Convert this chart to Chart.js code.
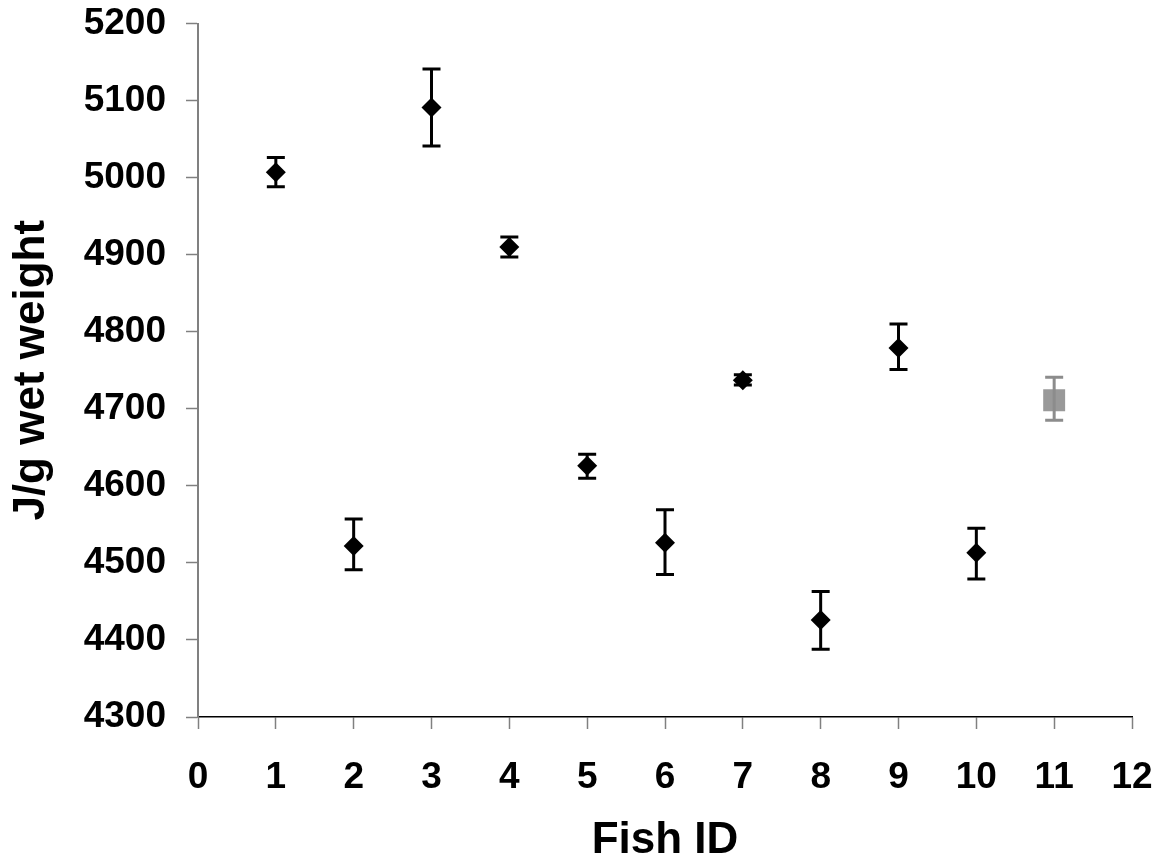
<!DOCTYPE html>
<html>
<head>
<meta charset="utf-8">
<script src="https://cdn.jsdelivr.net/npm/chart.js@4.4.1/dist/chart.umd.min.js"></script>
<style>
  html, body { margin: 0; padding: 0; background: #fff; }
  #wrap { width: 1159px; height: 865px; }
</style>
</head>
<body>
<div id="wrap"><canvas id="chart-energy" width="1159" height="865"></canvas></div>
<script>
// values
var fishIds = [1, 2, 3, 4, 5, 6, 7, 8, 9, 10];
var energy = [5007, 4522, 5091, 4910, 4626, 4526, 4737, 4426, 4779, 4513];
var errHigh = [5026, 4557, 5141, 4923, 4641, 4569, 4744, 4463, 4810, 4545];
var errLow = [4988, 4491, 5041, 4897, 4610, 4485, 4731, 4388, 4751, 4479];

var refIds = [11];
var refEnergy = [4711];
var refErrHigh = [4741];
var refErrLow = [4685];

var xTicks = [0, 1, 2, 3, 4, 5, 6, 7, 8, 9, 10, 11, 12];
var yTicks = [4300, 4400, 4500, 4600, 4700, 4800, 4900, 5000, 5100, 5200];

function toPoints(xs, ys) {
    var pts = [];
    for (let i = 0; i < xs.length; i++) {
        pts.push({ x: xs[i], y: ys[i] });
    }
    return pts;
}

// draws vertical error bars with caps for each dataset
const errorBarPlugin = {
    id: 'errorBars',
    afterDatasetsDraw: function (chart) {
        const ctx = chart.ctx;
        const yScale = chart.scales.y;
        chart.data.datasets.forEach(function (ds, di) {
            const meta = chart.getDatasetMeta(di);
            ctx.save();
            ctx.strokeStyle = ds.errorColor;
            ctx.lineWidth = 3;
            meta.data.forEach(function (pt, i) {
                const x = pt.x;
                const yHi = yScale.getPixelForValue(ds.errHigh[i]);
                const yLo = yScale.getPixelForValue(ds.errLow[i]);
                ctx.beginPath();
                ctx.moveTo(x, yHi);
                ctx.lineTo(x, yLo);
                ctx.moveTo(x - 9, yHi);
                ctx.lineTo(x + 9, yHi);
                ctx.moveTo(x - 9, yLo);
                ctx.lineTo(x + 9, yLo);
                ctx.stroke();
            });
            ctx.restore();
        });
    }
};

Chart.defaults.font.family = '"Liberation Sans", Arial, sans-serif';
Chart.defaults.color = '#000';

var data = {
    datasets: [
        {
            data: toPoints(fishIds, energy),
            errHigh: errHigh,
            errLow: errLow,
            errorColor: '#000',
            pointStyle: 'rectRot',
            pointRadius: 10,
            pointBackgroundColor: '#000',
            pointBorderColor: '#000',
            pointBorderWidth: 0,
            showLine: false
        },
        {
            data: toPoints(refIds, refEnergy),
            errHigh: refErrHigh,
            errLow: refErrLow,
            errorColor: '#8c8c8c',
            pointStyle: 'rect',
            pointRadius: 15.5,
            pointBackgroundColor: '#999',
            pointBorderColor: '#999',
            pointBorderWidth: 0,
            showLine: false
        }
    ]
};

var options = {
    responsive: false,
    animation: false,
    layout: {
        padding: { top: 23.5, right: 27, bottom: 0, left: 0 }
    },
    plugins: {
        legend: { display: false },
        tooltip: { enabled: false }
    },
    scales: {
        x: {
            type: 'linear',
            min: 0,
            max: 12,
            afterBuildTicks: function (scale) {
                scale.ticks = xTicks.map(function (v) { return { value: v }; });
            },
            afterFit: function (scale) {
                scale.height = 148;
                // label overflow is handled by the layout padding
                scale.paddingLeft = 0;
                scale.paddingRight = 0;
            },
            grid: {
                drawOnChartArea: false,
                drawTicks: true,
                tickLength: 12,
                tickColor: '#808080',
                tickWidth: 1.5
            },
            border: { color: '#000', width: 1.5 },
            ticks: {
                padding: 30,
                callback: function (value) { return String(value); },
                font: { size: 37, weight: 'bold', lineHeight: 1 }
            },
            title: {
                display: true,
                text: 'Fish ID',
                padding: { top: 0, bottom: 2.5 },
                font: { size: 44, weight: 'bold', lineHeight: 1 }
            }
        },
        y: {
            min: 4300,
            max: 5200,
            afterBuildTicks: function (scale) {
                scale.ticks = yTicks.map(function (v) { return { value: v }; });
            },
            afterFit: function (scale) {
                scale.width = 198;
                scale.paddingTop = 0;
                scale.paddingBottom = 0;
            },
            grid: {
                drawOnChartArea: false,
                drawTicks: true,
                tickLength: 12,
                tickColor: '#808080',
                tickWidth: 1.5
            },
            border: { color: '#808080', width: 2 },
            ticks: {
                padding: 20,
                callback: function (value) { return String(value); },
                font: { size: 37, weight: 'bold', lineHeight: 1 }
            },
            title: {
                display: true,
                text: 'J/g wet weight',
                padding: { top: 10, bottom: 0 },
                font: { size: 44, weight: 'bold', lineHeight: 1 }
            }
        }
    }
};

var ctx = document.getElementById('chart-energy').getContext('2d');
var chart = new Chart(ctx, {
    type: 'scatter',
    data: data,
    options: options,
    plugins: [errorBarPlugin]
});
</script>
</body>
</html>
